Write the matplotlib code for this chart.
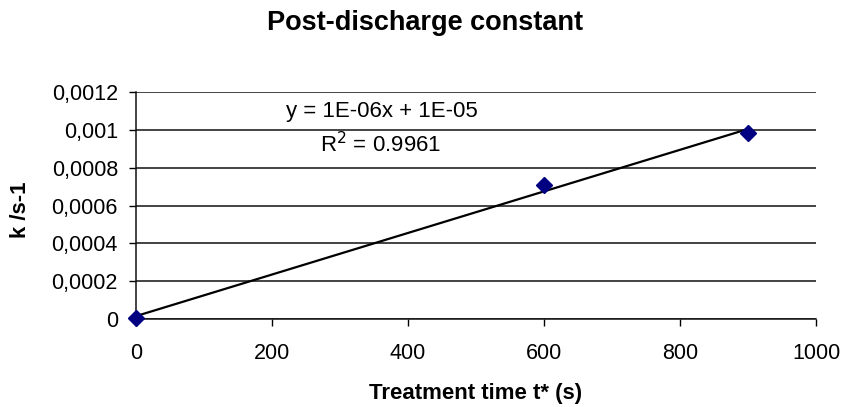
import numpy as np
import matplotlib
matplotlib.use('Agg')
import matplotlib.pyplot as plt
from matplotlib.ticker import FuncFormatter

plt.rcParams['font.family'] = ['Liberation Sans', 'DejaVu Sans']

# data
t = [0, 600, 900]
k = [0.000005, 0.00071, 0.00098]

x_ticks = [0, 200, 400, 600, 800, 1000]
y_ticks = [0, 0.0002, 0.0004, 0.0006, 0.0008, 0.001, 0.0012]

fig = plt.figure(figsize=(8.41, 4.07), dpi=100)
ax = fig.add_axes([0.1617, 0.2155, 0.8086, 0.559])

# linear trendline
slope, icpt = np.polyfit(t, k, 1)
tl = np.array([min(t), max(t)])
ax.plot(tl, slope * tl + icpt, color='black', lw=1.6, zorder=3)
ax.plot(t, k, 'D', color='#000080', markersize=8.5, zorder=4, clip_on=False)

ax.set_xlim(0, 1000)
ax.set_ylim(0, 0.0012)
ax.set_xticks(x_ticks)
ax.set_yticks(y_ticks)
ax.yaxis.set_major_formatter(FuncFormatter(lambda v, p: f"{v:g}".replace('.', ',')))

ax.grid(axis='y', color='#111111', lw=1.1)
ax.set_axisbelow(True)
for s in ['top', 'right']:
    ax.spines[s].set_visible(False)
for s in ['left', 'bottom']:
    ax.spines[s].set_color('#111111')
    ax.spines[s].set_linewidth(1.1)

ax.tick_params(axis='y', direction='out', length=5, width=1, labelsize=15.5, pad=8)
ax.tick_params(axis='x', direction='out', length=5, width=1, labelsize=15.5, pad=12)

ax.text(0.362, 0.915, 'y = 1E-06x + 1E-05', transform=ax.transAxes, ha='center', va='center', fontsize=16)
ax.text(0.36, 0.77, 'R$^2$ = 0.9961', transform=ax.transAxes, ha='center', va='center', fontsize=16)

ax.set_xlabel('Treatment time t* (s)', fontsize=16, fontweight='bold', labelpad=14)
ax.set_ylabel('k /s-1', fontsize=16, fontweight='bold', labelpad=13)
ax.yaxis.set_label_coords(-0.155, 0.48)
fig.suptitle('Post-discharge constant', x=0.505, y=0.975, fontsize=19.5, fontweight='bold')

fig.savefig('out.png', dpi=100)
